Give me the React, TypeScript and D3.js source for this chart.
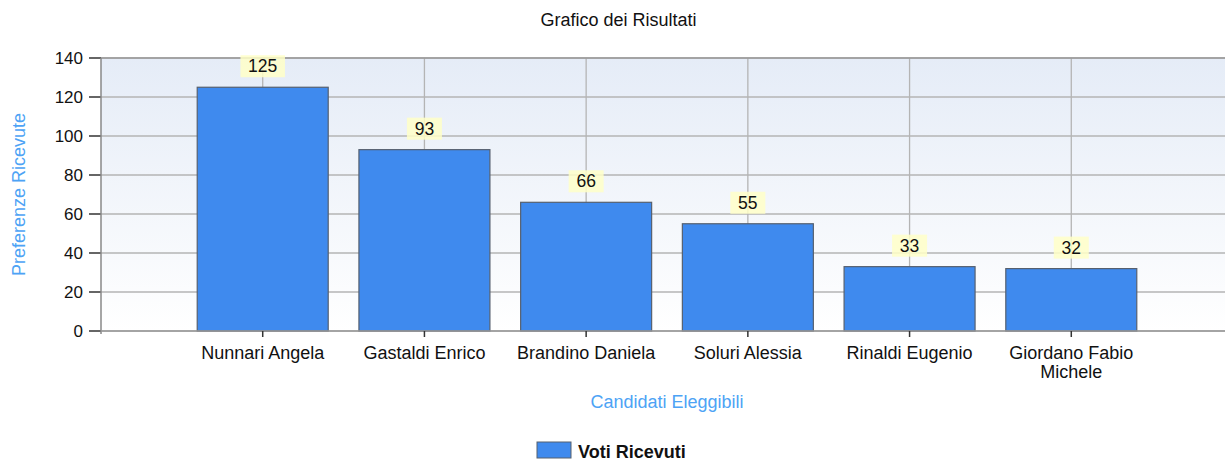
import React from "react";
import * as d3 from "d3";

const categories = ["Nunnari Angela", "Gastaldi Enrico", "Brandino Daniela", "Soluri Alessia", "Rinaldi Eugenio", "Giordano Fabio Michele"];
const values = [125, 93, 66, 55, 33, 32];
const yTicks = [0, 20, 40, 60, 80, 100, 120, 140];
const title = "Grafico dei Risultati";
const yTitle = "Preferenze Ricevute";
const xTitle = "Candidati Eleggibili";
const legendLabel = "Voti Ricevuti";

const W = 1225, H = 461;
const left = 101, top = 58, bottom = 331, right = 1233;
const FONT = "'Liberation Sans', Arial, sans-serif";
const FS = 18;

function wrapLabel(s: string): string[] {
  if (s.length > 18) {
    const parts = s.split(" ");
    return [parts.slice(0, 2).join(" "), parts.slice(2).join(" ")];
  }
  return [s];
}

export default function App() {
  const x = d3.scaleLinear().domain([0, categories.length + 1]).range([left, right]);
  const y = d3.scaleLinear().domain([0, 140]).range([bottom, top]);
  const step = x(1) - x(0);
  const bw = step * 0.81;
  return (
    <svg width={W} height={H} style={{ position: "absolute", left: 0, top: 0, fontFamily: FONT }}>
      <defs>
        <linearGradient id="bg" x1="0" y1="0" x2="0" y2="1">
          <stop offset="0" stopColor="#e5ecf7" />
          <stop offset="1" stopColor="#ffffff" />
        </linearGradient>
      </defs>
      <rect width={W} height={H} fill="#fff" />
      <text x={W / 2 + 6} y={25.5} textAnchor="middle" fontSize={FS} fill="#111">{title}</text>
      <rect x={left} y={top} width={right - left} height={bottom - top} fill="url(#bg)" />
      {yTicks.map(t => (
        <g key={t}>
          <line x1={left} x2={right} y1={y(t)} y2={y(t)} stroke="#b4b4b4" strokeWidth={1.3} />
          <line x1={left - 12} x2={left} y1={y(t)} y2={y(t)} stroke="#333" strokeWidth={1.5} />
          <text x={left - 18} y={y(t) + 6} textAnchor="end" fontSize={17} fill="#111">{t}</text>
        </g>
      ))}
      {categories.map((c, i) => (
        <line key={c} x1={x(i + 1)} x2={x(i + 1)} y1={top} y2={bottom} stroke="#b4b4b4" strokeWidth={1.3} />
      ))}
      <line x1={left} x2={right} y1={top} y2={top} stroke="#999" strokeWidth={1.3} />
      {categories.map((c, i) => (
        <rect key={c} x={x(i + 1) - bw / 2} y={y(values[i])} width={bw} height={bottom - y(values[i])}
          fill="#3f8aee" stroke="#56606f" strokeWidth={1.2} />
      ))}
      <line x1={left} x2={left} y1={top} y2={bottom + 3} stroke="#888" strokeWidth={1.5} />
      <line x1={left} x2={right} y1={bottom} y2={bottom} stroke="#999" strokeWidth={1.5} />
      {categories.map((c, i) => {
        const lines = wrapLabel(c);
        return (
          <g key={c}>
            <line x1={x(i + 1)} x2={x(i + 1)} y1={bottom} y2={bottom + 6} stroke="#333" strokeWidth={1.5} />
            {lines.map((l, k) => (
              <text key={k} x={x(i + 1)} y={358.5 + k * 19.5} textAnchor="middle" fontSize={FS} fill="#111">{l}</text>
            ))}
          </g>
        );
      })}
      {categories.map((c, i) => {
        const txt = String(values[i]);
        const bwid = txt.length * 9.5 + 16;
        const by = y(values[i]) - 10;
        return (
          <g key={c}>
            <rect x={x(i + 1) - bwid / 2} y={by - 22} width={bwid} height={22} fill="#ffffc8" fillOpacity={0.85} />
            <text x={x(i + 1)} y={by - 5} textAnchor="middle" fontSize={17.5} fill="#111">{txt}</text>
          </g>
        );
      })}
      <text transform={`translate(24.5,${(top + bottom) / 2}) rotate(-90)`} textAnchor="middle" fontSize={FS} fill="#4da3f5">{yTitle}</text>
      <text x={(left + right) / 2} y={407.5} textAnchor="middle" fontSize={FS} fill="#4da3f5">{xTitle}</text>
      <rect x={537} y={442} width={34} height={16} fill="#3f8aee" stroke="#56606f" strokeWidth={1} />
      <text x={578} y={458} fontSize={FS} fontWeight="bold" fill="#111">{legendLabel}</text>
    </svg>
  );
}
